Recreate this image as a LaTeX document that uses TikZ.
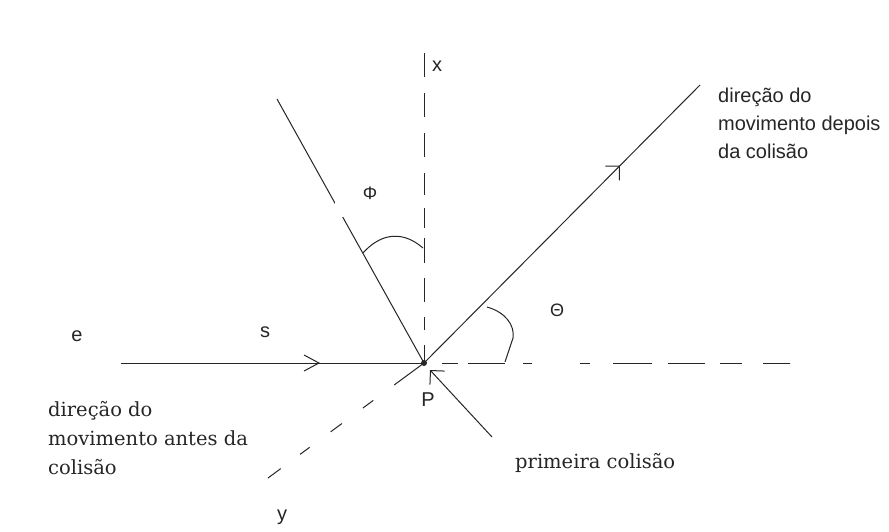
\documentclass[tikz,border=0pt]{standalone}
\usepackage{fontspec}
\setmainfont{Liberation Sans}
\newfontfamily\notefont{DejaVu Serif}
\usetikzlibrary{arrows.meta,decorations.markings}

\tikzset{
  ray/.style={line width=1pt, black!85},
  axisdash/.style={line width=1pt, black!85, dash pattern=#1},
  lettertext/.style={text=black!85, font=\fontsize{20pt}{28pt}\selectfont, inner sep=0pt},
  note/.style={text=black!85, font=\notefont\fontsize{19.5pt}{29pt}\selectfont, inner sep=0pt, align=left},
  midbarb/.style 2 args={postaction={decorate}, decoration={markings, mark=at position #1 with {\arrow{Straight Barb[#2]}}}},
  anglebox/.style={fill=white, minimum width=70pt, minimum height=47pt, text=black!85, font=\fontsize{18pt}{20pt}\selectfont}
}

\begin{document}
\begin{tikzpicture}[x=1pt,y=-1pt]
  \useasboundingbox[fill=white] (0,0) rectangle (889,531);
  % Points
  \coordinate (P) at (424,363);
  \coordinate (xend) at (424,53);
  \coordinate (yend) at (268,478);
  \coordinate (rend) at (790,363);
  \coordinate (start) at (121,363);
  \coordinate (incoming) at (277,99);
  \coordinate (outgoing) at (700,85);
  \coordinate (hit) at (492,437);
  \coordinate (hittip) at (430,370);
  % Axes
  \draw[axisdash={on 24pt off 16pt on 24pt off 16pt on 24pt off 16pt on 22pt off 13pt on 20pt off 10pt on 25pt off 15pt on 24pt off 15pt on 13pt off 15pt on 18pt off 0pt}] (xend) -- (P);
  \draw[axisdash={on 0pt off 18pt on 16pt off 10pt on 37pt off 18pt on 9pt off 48pt on 10pt off 23pt on 39pt off 16pt on 37pt off 15pt on 22pt off 21pt on 27pt}] (P) -- (rend);
  \draw[axisdash={on 37pt off 26pt on 13pt off 26pt on 14pt off 26pt on 12pt off 24pt on 16pt off 0pt}] (P) -- (yend);
  % Paths of the particle
  \draw[ray, midbarb={0.657}{length=15pt,width=16pt}] (start) -- (P);
  \draw[ray] (incoming) -- (P);
  \draw[ray, midbarb={0.71}{length=10pt,width=20pt}] (P) -- (outgoing);
  \draw[ray, -{Straight Barb[length=10pt,width=20pt]}] (hit) -- (hittip);
  \fill[black!85] (P) circle (3pt);
  % Angles
  \draw[ray] (363,253) .. controls (378,236) and (400,228) .. (423,248);
  \draw[ray] (487,307) .. controls (505,312) and (515,325) .. (513,338) -- (505,362);
  \node[anglebox] (phi) at (370,193.5) {Φ};
  \node[anglebox] (theta) at (557,310) {Θ};
  % Labels
  \node[lettertext] (xlab) at (437,66) {x};
  \node[lettertext] (ylab) at (282,517) {y};
  \node[lettertext] (elab) at (77,336) {e};
  \node[lettertext] (slab) at (265,332) {s};
  \node[lettertext] (plab) at (428,400) {P};
  \node[lettertext, align=left, anchor=north west] (after) at (718,88) {direção do\\movimento depois\\da colisão};
  \node[note, anchor=north west] (before) at (48,401) {direção do\\movimento antes da\\colisão};
  \node[note, anchor=base west] (first) at (515,468) {primeira colisão};
\end{tikzpicture}
\end{document}
